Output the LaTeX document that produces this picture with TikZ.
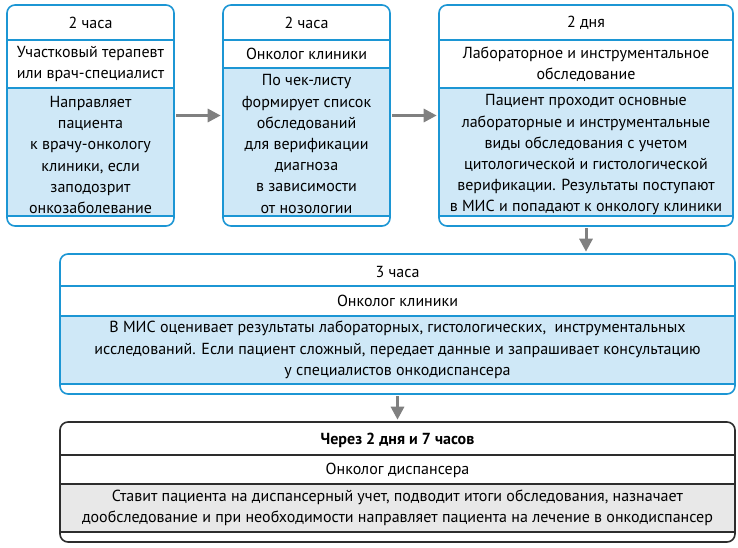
\documentclass[tikz,border=0pt]{standalone}
\usepackage{fontspec}
\setmainfont{PT Sans}
\usetikzlibrary{arrows.meta,positioning}
\definecolor{cardblue}{RGB}{28,150,212}
\definecolor{bandblue}{RGB}{207,232,247}
\definecolor{carddark}{RGB}{45,45,45}
\definecolor{bandgray}{RGB}{232,232,232}
\definecolor{flowgray}{RGB}{128,128,128}
\tikzset{every picture/.style={/utils/exec={\fontsize{16}{21.2}\selectfont}}}
\tikzset{
  card/.style={draw=cardblue, line width=1.6pt, rounded corners=8pt, inner sep=0pt},
  darkcard/.style={card, draw=carddark},
  band/.style={fill=bandblue, draw=cardblue, line width=1.6pt},
  grayband/.style={fill=bandgray, draw=carddark, line width=1.6pt},
  rule/.style={draw=cardblue, line width=1.6pt},
  darkrule/.style={draw=carddark, line width=1.6pt},
  txt/.style={align=center, inner sep=0pt},
  flow/.style={draw=flowgray, line width=3pt,
    -{Triangle[length=13pt,width=13pt]}, shorten <=1.5pt, shorten >=1.5pt}
}

\begin{document}
\begin{tikzpicture}[x=1pt,y=-1pt]
  \fill[white] (0,0) rectangle (738,548);
  \useasboundingbox (0,0) rectangle (738,548);

  % first row
  \filldraw[band] (7,88) rectangle (174,216);
  \draw[rule] (7,40) -- (174,40);
  \node[card, minimum width=167pt, minimum height=221pt] (c1) at (90.5,115.5) {};
  \node[txt] (c1time) at (90.5,23) {2 часа};
  \node[txt] (c1who) at (90.5,64) {Участковый терапевт\\или врач-специалист};
  \node[txt] (c1what) at (90.5,155) {Направляет\\пациента\\к врачу-онкологу\\клиники, если\\заподозрит\\онкозаболевание};

  \filldraw[band] (223,68) rectangle (390,216);
  \draw[rule] (223,40) -- (390,40);
  \node[card, minimum width=167pt, minimum height=221pt] (c2) at (306.5,115.5) {};
  \node[txt] (c2time) at (306.5,23) {2 часа};
  \node[txt] (c2who) at (306.5,54) {Онколог клиники};
  \node[txt] (c2what) at (306.5,144) {По чек-листу\\формирует список\\обследований\\для верификации\\диагноза\\в зависимости\\от нозологии};

  \filldraw[band] (439,88) rectangle (733,216);
  \draw[rule] (439,40) -- (733,40);
  \node[card, minimum width=294pt, minimum height=221pt] (c3) at (586,115.5) {};
  \node[txt] (c3time) at (586,23) {2 дня};
  \node[txt] (c3who) at (586,64) {Лабораторное и инструментальное\\обследование};
  \node[txt] (c3what) at (586,155) {Пациент проходит основные\\лабораторные и инструментальные\\виды обследования с учетом\\цитологической и гистологической\\верификации. Результаты поступают\\в МИС и попадают к онкологу клиники};

  % second row
  \filldraw[band] (60,316) rectangle (735,384);
  \draw[rule] (60,286) -- (735,286);
  \node[card, minimum width=675pt, minimum height=140pt] (c4) at (397.5,324) {};
  \node[txt] (c4time) at (397.5,272) {3 часа};
  \node[txt] (c4who) at (397.5,301) {Онколог клиники};
  \node[txt] (c4what) at (397.5,350) {В МИС оценивает результаты лабораторных, гистологических,~~инструментальных\\исследований. Если пациент сложный, передает данные и запрашивает консультацию\\у специалистов онкодиспансера};

  % third row
  \filldraw[grayband] (60,484) rectangle (735,532);
  \draw[darkrule] (60,455) -- (735,455);
  \node[darkcard, minimum width=675pt, minimum height=120pt] (c5) at (397.5,482) {};
  \node[txt, font=\bfseries] (c5time) at (397.5,440) {Через 2 дня и 7 часов};
  \node[txt] (c5who) at (397.5,470) {Онколог диспансера};
  \node[txt] (c5what) at (397.5,508) {Ставит пациента на диспансерный учет, подводит итоги обследования, назначает\\дообследование и при необходимости направляет пациента на лечение в онкодиспансер};

  % arrows
  \draw[flow] (c1) -- (c2);
  \draw[flow] (c2) -- (c3);
  \draw[flow] (c3.south) -- (c3.south |- c4.north);
  \draw[flow] (c4.south) -- (c5.north);
\end{tikzpicture}
\end{document}
